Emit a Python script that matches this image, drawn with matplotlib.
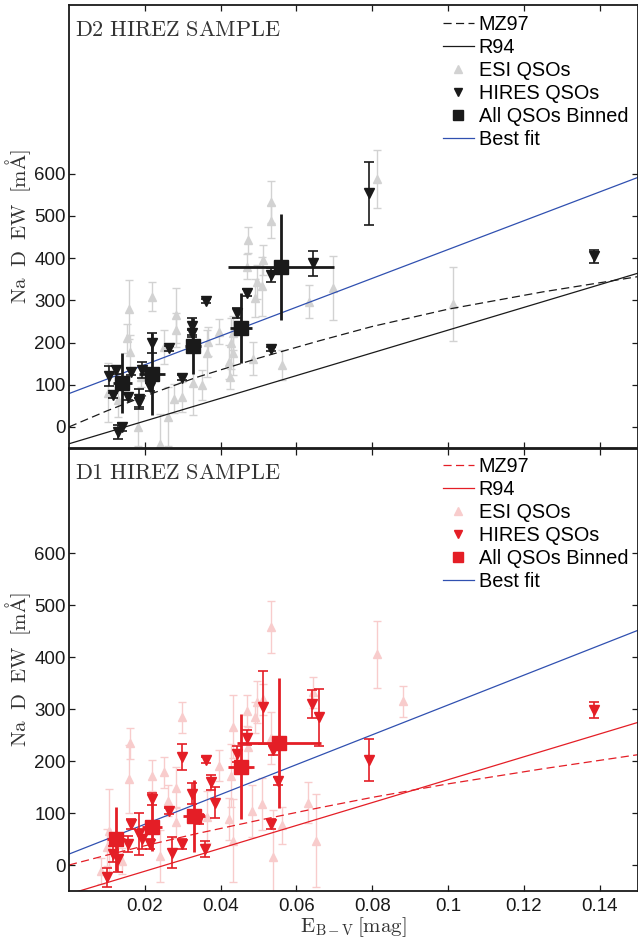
import matplotlib
matplotlib.use("Agg")
import matplotlib.pyplot as plt
from matplotlib.lines import Line2D

plt.rcParams['font.family'] = ['Liberation Sans', 'DejaVu Sans']
plt.rcParams['mathtext.fontset'] = 'cm'

# ---------------- data: D2 panel ----------------
d2_esi_x = [0.0103, 0.0128, 0.0152, 0.0158, 0.0161, 0.0183, 0.0189, 0.0219, 0.0241, 0.0250,
            0.0261, 0.0276, 0.0283, 0.0283, 0.0298, 0.0327, 0.0351, 0.0364, 0.0366, 0.0396,
            0.0423, 0.0425, 0.0427, 0.0432, 0.0434, 0.0469, 0.0473, 0.0486, 0.0491, 0.0495,
            0.0508, 0.0512, 0.0532, 0.0532, 0.0561, 0.0633, 0.0696, 0.0812, 0.1013]
d2_esi_y = [81, 63, 210, 279, 178, 0, 119, 309, -40, 190,
            24, 67, 265, 230, 71, 103, 99, 174, 202, 226,
            154, 119, 198, 222, 174, 380, 443, 162, 305, 344,
            333, 396, 534, 487, 147, 297, 329, 588, 292]
d2_esi_err = [70, 40, 35, 70, 40, 45, 25, 35, 70, 40,
              70, 35, 65, 40, 35, 75, 35, 55, 35, 30,
              40, 30, 60, 40, 50, 30, 30, 40, 45, 40,
              70, 35, 50, 40, 35, 40, 75, 68, 88]

d2_hires_x = [0.0106, 0.0123, 0.0117, 0.0163, 0.0156, 0.0184, 0.0186, 0.0193, 0.0219, 0.0215,
              0.0128, 0.0141, 0.0263, 0.0298, 0.0324, 0.0324, 0.0361, 0.0444, 0.0469, 0.0532,
              0.0534, 0.0644, 0.0791, 0.1386]
d2_hires_y = [120, 135, 75, 131, 71, 67, 58, 135, 198, 95,
              -12, 0, 186, 117, 238, 222, 299, 269, 318, 185,
              360, 388, 554, 404]
d2_hires_err = [24, 10, 6, 8, 8, 24, 10, 18, 24, 10,
                16, 10, 5, 5, 20, 8, 5, 12, 8, 5,
                16, 30, 75, 16]

d2_bin_x = [0.0141, 0.0219, 0.0327, 0.0454, 0.0559]
d2_bin_y = [105, 125, 192, 234, 379]
d2_bin_xerr = [0.0025, 0.0033, 0.0022, 0.0030, 0.0140]
d2_bin_yerr = [71, 97, 67, 83, 125]

mz97_x = [0.0, 0.01, 0.02, 0.0335, 0.05, 0.066, 0.08, 0.10, 0.125, 0.15]
d2_mz97_y = [0, 38, 73, 117, 163, 204, 238, 279, 320, 356]
d1_mz97_y = [0, 19, 37, 60, 86, 110, 130, 156, 185, 212]

line_x = [0.0, 0.15]
d2_r94_y = [-40, 364]
d1_r94_y = [-56, 274]
d2_fit_y = [79, 591]
d1_fit_y = [21, 451]

# ---------------- data: D1 panel ----------------
d1_esi_x = [0.0084, 0.0106, 0.0099, 0.0141, 0.0161, 0.0158, 0.0219, 0.0241, 0.0250, 0.0261,
            0.0282, 0.0283, 0.0298, 0.0364, 0.0396, 0.0423, 0.0427, 0.0432, 0.0434, 0.0470,
            0.0473, 0.0484, 0.0491, 0.0495, 0.0508, 0.0512, 0.0532, 0.0532, 0.0539, 0.0561,
            0.0630, 0.0644, 0.0652, 0.0812, 0.0882]
d1_esi_y = [-12, 66, 34, 8, 234, 165, 172, 18, 178, 124,
            149, 82, 284, 92, 191, 88, 172, 266, 47, 297,
            226, 104, 284, 313, 117, 319, 457, 245, 15, 76,
            120, 332, 47, 405, 315]
d1_esi_err = [25, 80, 35, 25, 30, 65, 30, 50, 30, 30,
              40, 30, 30, 50, 30, 40, 60, 60, 80, 30,
              40, 50, 30, 40, 50, 30, 50, 50, 90, 35,
              40, 30, 90, 64, 30]

d1_hires_x = [0.0101, 0.0116, 0.0129, 0.0156, 0.0163, 0.0184, 0.0193, 0.0219, 0.0215, 0.0263,
              0.0272, 0.0298, 0.0298, 0.0325, 0.0342, 0.0358, 0.0361, 0.0375, 0.0384, 0.0444,
              0.0469, 0.0512, 0.0532, 0.0537, 0.0552, 0.0642, 0.0659, 0.0791, 0.1386]
d1_hires_y = [-24, 21, 12, 40, 79, 60, 50, 127, 40, 104,
              24, 207, 40, 137, 88, 31, 202, 159, 120, 213,
              245, 303, 79, 221, 162, 310, 284, 202, 298]
d1_hires_err = [18, 15, 25, 15, 10, 40, 20, 12, 10, 5,
                30, 25, 10, 20, 10, 15, 5, 15, 30, 15,
                15, 70, 10, 10, 8, 27, 55, 40, 15]

d1_bin_x = [0.0123, 0.0219, 0.0330, 0.0454, 0.0554]
d1_bin_y = [50, 74, 94, 189, 235]
d1_bin_xerr = [0.0024, 0.0026, 0.0028, 0.0035, 0.0110]
d1_bin_yerr = [61, 48, 69, 101, 125]

x_ticks = [0.02, 0.04, 0.06, 0.08, 0.1, 0.12, 0.14]
x_ticklabels = ['0.02', '0.04', '0.06', '0.08', '0.1', '0.12', '0.14']
y_ticks = [0, 100, 200, 300, 400, 500, 600]

# ---------------- styling ----------------
BLACK = '#1a1a1a'
GREY = '#d2d2d2'
RED = '#e41e26'
PINK = '#f8cccc'
BLUE = '#3050b0'

fig = plt.figure(figsize=(6.38, 9.40), dpi=100)
W, H = 638.0, 940.0
ax1 = fig.add_axes([69 / W, 1 - 448 / H, 568.5 / W, 443 / H])
ax2 = fig.add_axes([69 / W, 1 - 891 / H, 568.5 / W, 442 / H])


def draw(ax, esi_x, esi_y, esi_e, hx, hy, he, bx, by, bxe, bye,
         mz, r94, fit, main, light, ylim, title, title_y, leg_y):
    ax.errorbar(esi_x, esi_y, yerr=esi_e, fmt='^', color=light, ms=6.2, mec=light,
                mfc=light, elinewidth=1.0, capsize=2.9, capthick=1.0, zorder=1)
    ax.plot(mz97_x, mz, color=main, lw=0.9, dashes=(6.5, 3.5), zorder=2)
    ax.plot(line_x, r94, color=main, lw=0.9, zorder=2)
    ax.plot(line_x, fit, color=BLUE, lw=0.9, zorder=2)
    ax.errorbar(hx, hy, yerr=he, fmt='v', color=main, ms=6.5, mec=main, mfc=main,
                elinewidth=1.2, capsize=3.6, capthick=1.2, zorder=3)
    ax.errorbar(bx, by, xerr=bxe, yerr=bye, fmt='s', color=main, ms=10, mec=main,
                mfc=main, elinewidth=2.0, capsize=0, zorder=4)
    ax.set_xlim(0, 0.15)
    ax.set_ylim(*ylim)
    ax.set_xticks(x_ticks)
    ax.set_yticks(y_ticks)
    ax.set_yticklabels([str(v) for v in y_ticks])
    ax.tick_params(direction='in', top=True, right=True, length=4, width=0.9,
                   labelsize=13.5, colors='#1a1a1a')
    ax.tick_params(axis='y', pad=2.5)
    ax.tick_params(axis='x', pad=5.0)
    for s in ax.spines.values():
        s.set_linewidth(1.3)
        s.set_color('#1a1a1a')
    ax.set_ylabel(r'$\mathrm{Na\ \;D\ \;EW\ \;[m\AA]}$', fontsize=15, color='#333333')
    ax.yaxis.set_label_coords(-0.064, 0.5)
    ax.text(0.0105, title_y, r'$\mathrm{' + title.replace(' ', r'\ ') + '}$',
            transform=ax.transAxes, fontsize=16, va='top', ha='left', color='#333333')
    handles = [
        Line2D([], [], color=main, lw=0.9, dashes=(6.5, 3.5)),
        Line2D([], [], color=main, lw=0.9),
        Line2D([], [], ls='none', marker='^', color=light, ms=6.2),
        Line2D([], [], ls='none', marker='v', color=main, ms=6.2),
        Line2D([], [], ls='none', marker='s', color=main, ms=6.8),
        Line2D([], [], color=BLUE, lw=0.9),
    ]
    labels = ['MZ97', 'R94', 'ESI QSOs', 'HIRES QSOs', 'All QSOs Binned', 'Best fit']
    ax.legend(handles, labels, loc='upper left', bbox_to_anchor=(0.657, leg_y),
              frameon=False, fontsize=14.3, handlelength=1.6, handletextpad=0.22,
              labelspacing=0.2, borderaxespad=0.0, borderpad=0.0)


draw(ax1, d2_esi_x, d2_esi_y, d2_esi_err, d2_hires_x, d2_hires_y, d2_hires_err,
     d2_bin_x, d2_bin_y, d2_bin_xerr, d2_bin_yerr,
     d2_mz97_y, d2_r94_y, d2_fit_y, BLACK, GREY, (-50, 1000), 'D2 HIREZ SAMPLE',
     0.966, 0.977)
ax1.tick_params(axis='x', labelbottom=False)

draw(ax2, d1_esi_x, d1_esi_y, d1_esi_err, d1_hires_x, d1_hires_y, d1_hires_err,
     d1_bin_x, d1_bin_y, d1_bin_xerr, d1_bin_yerr,
     d1_mz97_y, d1_r94_y, d1_fit_y, RED, PINK, (-50, 800), 'D1 HIREZ SAMPLE',
     0.968, 0.981)
ax2.set_xticklabels(x_ticklabels)
ax2.set_xlabel(r'$\mathrm{E}_{\mathrm{B-V}}\,[\mathrm{mag}]$', fontsize=15, color='#333333',
               labelpad=0)

fig.savefig('out.png', dpi=100)
